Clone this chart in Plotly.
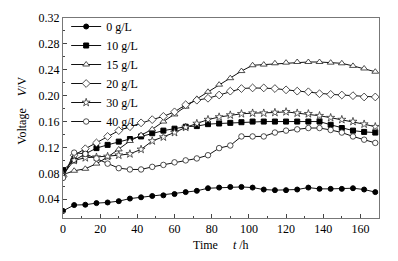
import plotly.graph_objects as go

time_h = [0, 6, 12, 18, 24, 30, 36, 42, 48, 54, 60, 66, 72, 78, 84, 90, 96,
          102, 108, 114, 120, 126, 132, 138, 144, 150, 156, 162, 168]

v_0 = [0.022, 0.031, 0.0315, 0.034, 0.035, 0.037, 0.041, 0.043, 0.045, 0.046,
       0.048, 0.051, 0.053, 0.057, 0.058, 0.059, 0.059, 0.058, 0.055, 0.054,
       0.054, 0.055, 0.058, 0.056, 0.056, 0.056, 0.057, 0.055, 0.051]
v_10 = [0.085, 0.100, 0.110, 0.119, 0.124, 0.129, 0.133, 0.137, 0.142, 0.146,
        0.149, 0.152, 0.153, 0.156, 0.157, 0.158, 0.159, 0.160, 0.160, 0.160,
        0.160, 0.160, 0.160, 0.160, 0.155, 0.150, 0.146, 0.144, 0.143]
v_15 = [0.078, 0.084, 0.087, 0.095, 0.105, 0.117, 0.130, 0.139, 0.148, 0.160,
        0.171, 0.183, 0.195, 0.206, 0.217, 0.227, 0.238, 0.247, 0.248, 0.250,
        0.251, 0.252, 0.252, 0.252, 0.251, 0.250, 0.246, 0.242, 0.237]
v_20 = [0.075, 0.108, 0.118, 0.127, 0.137, 0.146, 0.152, 0.158, 0.163, 0.168,
        0.175, 0.186, 0.193, 0.196, 0.201, 0.207, 0.211, 0.212, 0.212, 0.211,
        0.209, 0.207, 0.206, 0.203, 0.202, 0.201, 0.200, 0.198, 0.198]
v_30 = [0.078, 0.100, 0.104, 0.105, 0.106, 0.108, 0.110, 0.117, 0.130, 0.136,
        0.143, 0.151, 0.157, 0.163, 0.167, 0.170, 0.172, 0.173, 0.173, 0.174,
        0.175, 0.173, 0.172, 0.169, 0.166, 0.163, 0.160, 0.156, 0.152]
v_40 = [0.073, 0.112, 0.110, 0.103, 0.095, 0.088, 0.086, 0.086, 0.090, 0.093,
        0.097, 0.100, 0.103, 0.108, 0.119, 0.123, 0.137, 0.137, 0.137, 0.143,
        0.146, 0.148, 0.150, 0.150, 0.147, 0.143, 0.137, 0.132, 0.127]

series_names = ["0 g/L", "10 g/L", "15 g/L", "20 g/L", "30 g/L", "40 g/L"]
series_values = [v_0, v_10, v_15, v_20, v_30, v_40]

x_ticks = [0, 20, 40, 60, 80, 100, 120, 140, 160]
y_ticks = [0.04, 0.08, 0.12, 0.16, 0.20, 0.24, 0.28, 0.32]

styles = [
    dict(symbol="circle", size=5, color="black", line=dict(color="black", width=1)),
    dict(symbol="square", size=5, color="black", line=dict(color="black", width=1)),
    dict(symbol="triangle-up", size=6, color="white", line=dict(color="#222", width=0.8)),
    dict(symbol="diamond", size=6, color="white", line=dict(color="#222", width=0.8)),
    dict(symbol="star", size=6, color="white", line=dict(color="#333", width=0.8)),
    dict(symbol="circle", size=5.5, color="white", line=dict(color="#222", width=0.8)),
]

FONT = "Liberation Serif"

fig = go.Figure()
for name, vals, st in zip(series_names, series_values, styles):
    fig.add_trace(go.Scatter(
        x=time_h, y=vals, name=name, mode="lines+markers",
        line=dict(color="#111", width=1),
        marker=st,
    ))

axis_common = dict(
    showgrid=False, zeroline=False, showline=True, linecolor="#777",
    linewidth=1, mirror=True, ticks="inside", ticklen=4, tickcolor="#444",
    tickfont=dict(family=FONT, size=12, color="black"),
)

fig.update_layout(
    width=398, height=261,
    margin=dict(l=63, r=19, t=12, b=43),
    paper_bgcolor="white", plot_bgcolor="white",
    font=dict(family=FONT, size=12, color="black"),
    showlegend=True,
    legend=dict(
        x=0.01, y=1.03, xanchor="left", yanchor="top",
        bgcolor="rgba(0,0,0,0)", borderwidth=0, maxheight=1,
        font=dict(family=FONT, size=12, color="black"),
    ),
    xaxis=dict(range=[0, 170], tickvals=x_ticks,
               ticktext=[str(v) for v in x_ticks],
               minor=dict(dtick=10, ticks="inside", ticklen=2, tickcolor="#444"),
               **axis_common),
    yaxis=dict(range=[0.011, 0.32], tickvals=y_ticks,
               ticktext=["%.2f" % v for v in y_ticks],
               minor=dict(dtick=0.02, tick0=0, ticks="inside", ticklen=2, tickcolor="#444"),
               **axis_common),
)

fig.add_annotation(
    xref="paper", yref="paper", x=0.5, y=-0.136, xanchor="center", yanchor="middle",
    text="Time&nbsp;&nbsp;&nbsp;&nbsp;&nbsp;<i>t</i> /h", showarrow=False,
    font=dict(family=FONT, size=12, color="black"),
)
fig.add_annotation(
    xref="paper", yref="paper", x=-0.13, y=0.536, xanchor="center", yanchor="middle",
    text="Voltage&nbsp;&nbsp;&nbsp;&nbsp;<i>V</i>/V", textangle=-90, showarrow=False,
    font=dict(family=FONT, size=12, color="black"),
)

fig.write_html("out.html", config={"displayModeBar": False},
               post_script="document.body.style.margin='0';")
